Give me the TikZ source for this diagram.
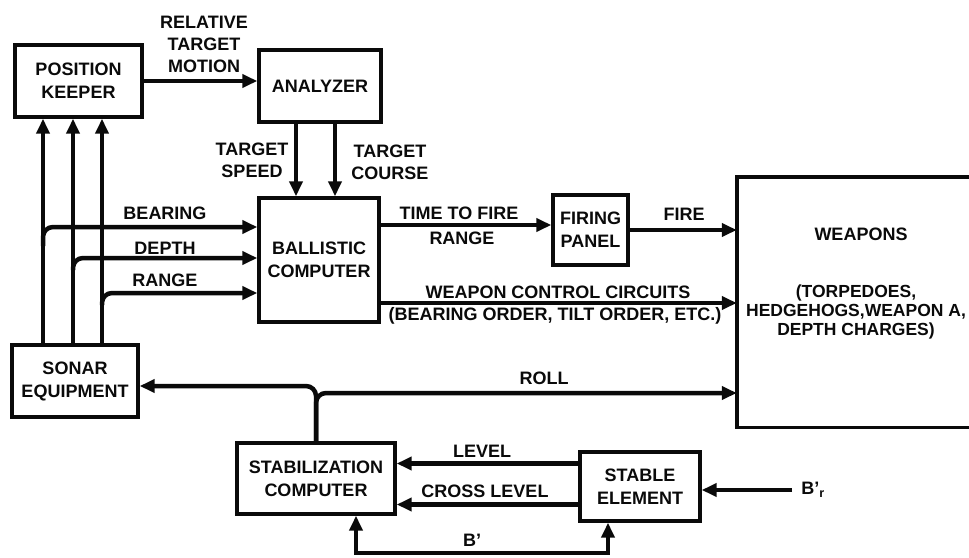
\documentclass[tikz,border=0pt]{standalone}
\usepackage{fontspec}
\setmainfont{Liberation Sans}
\usetikzlibrary{arrows.meta}
\definecolor{Pen}{HTML}{0A0A0A}

\begin{document}
\begin{tikzpicture}[x=1pt,y=-1pt,
  box/.style={draw=Pen,line width=3.4pt,align=center,inner sep=0pt,text=Pen,font=\bfseries\fontsize{18}{23}\selectfont},
  lbl/.style={align=center,inner sep=0pt,text=Pen,font=\bfseries\fontsize{18}{22}\selectfont},
  sig/.style={draw=Pen,line width=4.5pt,-{Triangle[length=15pt,width=13pt]}},
  sigboth/.style={draw=Pen,line width=4.5pt,{Triangle[length=15pt,width=13pt]}-{Triangle[length=15pt,width=13pt]}}]
\useasboundingbox (0,0) rectangle (969,557);
\node[box,minimum width=127pt,minimum height=72pt] (pk) at (78.5,81) {POSITION\\KEEPER};
\node[box,minimum width=122pt,minimum height=72pt] (an) at (320,86) {ANALYZER};
\node[box,minimum width=120pt,minimum height=124pt] (bc) at (319,260) {BALLISTIC\\COMPUTER};
\node[box,minimum width=126pt,minimum height=72pt] (sonar) at (75,381) {SONAR\\EQUIPMENT};
\node[box,minimum width=75pt,minimum height=70pt] (fp) at (590.5,230) {FIRING\\PANEL};
\node[box,minimum width=158pt,minimum height=71pt] (sc) at (316,478.5) {STABILIZATION\\COMPUTER};
\node[box,minimum width=120pt,minimum height=69pt] (se) at (640,486.5) {STABLE\\ELEMENT};
\node[minimum width=232pt,minimum height=250pt,inner sep=0pt] (weap) at (853,302) {};
\draw[Pen,line width=3.4pt] (weap.north east) -- (weap.north west) -- (weap.south west) -- (weap.south east);
\node[lbl] (wtitle) at (861,234) {WEAPONS};
\node[lbl,font=\bfseries\fontsize{17.5}{19}\selectfont] (wlist) at (856,312) {(TORPEDOES,\\HEDGEHOGS,WEAPON A,\\DEPTH CHARGES)};
\node[lbl] (rtm) at (204,44) {RELATIVE\\TARGET\\MOTION};
\node[lbl] (tspd) at (252,160) {TARGET\\SPEED};
\node[lbl] (tcrs) at (390,162) {TARGET\\COURSE};
\node[lbl] (brg) at (165,213.5) {BEARING};
\node[lbl] (dpt) at (165,248) {DEPTH};
\node[lbl] (rng) at (165,280) {RANGE};
\node[lbl] (ttf) at (459,213.5) {TIME TO FIRE};
\node[lbl] (frng) at (462,238.5) {RANGE};
\node[lbl] (fire) at (684,214.5) {FIRE};
\node[lbl] (wcc) at (558,292.5) {WEAPON CONTROL CIRCUITS};
\node[lbl] (ord) at (555,316) {(BEARING ORDER, TILT ORDER, ETC.)};
\node[lbl] (roll) at (544,378) {ROLL};
\node[lbl] (lvl) at (482,451) {LEVEL};
\node[lbl] (xlvl) at (485,491) {CROSS LEVEL};
\node[lbl] (bprm) at (472,540) {B'};
\node[lbl] (brlbl) at (813,490) {B'\textsubscript{r}};
\coordinate (tapB) at (43,246);
\coordinate (tapD) at (73,270);
\coordinate (tapR) at (102,305);
\coordinate (rowB) at (0,227);
\coordinate (rowD) at (0,258);
\coordinate (rowR) at (0,293);
\coordinate (rollL) at (0,386);
\coordinate (rollR) at (0,393);
\coordinate (loop) at (0,553);
\draw[sig] (pk.east) -- (pk.east -| an.west);
\draw[sig] ([xshift=-24pt]an.south) -- ([xshift=-24pt]an.south |- bc.north);
\draw[sig] ([xshift=15pt]an.south) -- ([xshift=15pt]an.south |- bc.north);
\foreach \dx in {43,73,102} {\draw[sig] (sonar.north -| \dx,0) -- (pk.south -| \dx,0);}
\draw[sig,rounded corners=10pt] (tapB) |- (bc.west |- rowB);
\draw[sig,rounded corners=10pt] (tapD) |- (bc.west |- rowD);
\draw[sig,rounded corners=10pt] (tapR) |- (bc.west |- rowR);
\draw[sig] ([yshift=35pt]bc.east) -- ([yshift=35pt]bc.east -| fp.west);
\draw[sig] (fp.east) -- (fp.east -| weap.west);
\draw[sig] ([yshift=-43pt]bc.east) -- ([yshift=-43pt]bc.east -| weap.west);
\draw[sig,rounded corners=10pt] (sc.north) |- (sonar.east |- rollL);
\draw[sig,rounded corners=10pt] (sc.north) |- (weap.west |- rollR);
\draw[sig] ([yshift=23pt]se.west) -- ([yshift=23pt]se.west -| sc.east);
\draw[sig] ([yshift=-18pt]se.west) -- ([yshift=-18pt]se.west -| sc.east);
\draw[sig,shorten <=9pt] (brlbl.west) -- (brlbl.west -| se.east);
\draw[sigboth] ([xshift=40pt]sc.south) -- ([xshift=40pt]sc.south |- loop) -| ([xshift=-32pt]se.south);
\end{tikzpicture}
\end{document}
